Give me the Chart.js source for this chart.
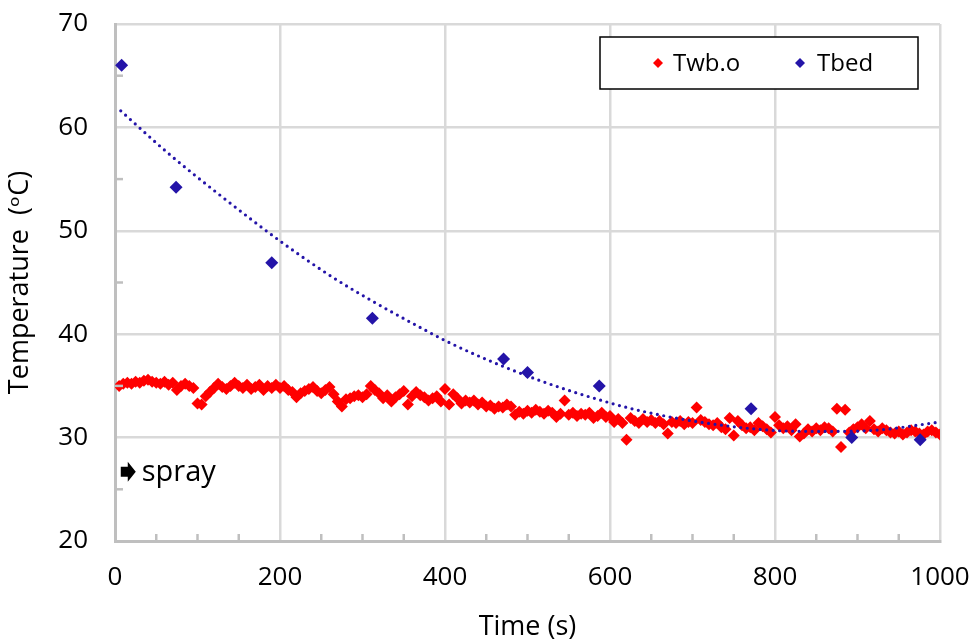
<!DOCTYPE html>
<html>
<head>
<meta charset="utf-8">
<script src="https://cdn.jsdelivr.net/npm/chart.js@4.4.1/dist/chart.umd.min.js"></script>
<style>
  html, body { margin: 0; padding: 0; background: #ffffff; }
  #wrap { width: 973px; height: 644px; }
</style>
</head>
<body>
<div id="wrap"><canvas id="tempChart" width="973" height="644"></canvas></div>
<script>
// axis ticks
const xTicks = [0, 200, 400, 600, 800, 1000];
const yTicks = [20, 30, 40, 50, 60, 70];
const xMinor = [50, 100, 150, 250, 300, 350, 450, 500, 550, 650, 700, 750, 850, 900, 950];
const yMinor = [25, 35, 45, 55, 65];
const seriesNames = ['Twb.o', 'Tbed'];

// Twb.o (red)
const twbTime = [
  5, 10, 15, 20, 25, 30, 35, 40, 45, 50, 55, 60, 65, 70, 75, 80, 85, 90, 95, 100,
  105, 110, 115, 120, 125, 130, 135, 140, 145, 150, 155, 160, 165, 170, 175, 180, 185, 190, 195, 200,
  205, 210, 215, 220, 225, 230, 235, 240, 245, 250, 255, 260, 265, 270, 275, 280, 285, 290, 295, 300,
  305, 310, 315, 320, 325, 330, 335, 340, 345, 350, 355, 360, 365, 370, 375, 380, 385, 390, 395, 400,
  405, 410, 415, 420, 425, 430, 435, 440, 445, 450, 455, 460, 465, 470, 475, 480, 485, 490, 495, 500,
  505, 510, 515, 520, 525, 530, 535, 540, 545, 550, 555, 560, 565, 570, 575, 580, 585, 590, 595, 600,
  605, 610, 615, 620, 625, 630, 635, 640, 645, 650, 655, 660, 665, 670, 675, 680, 685, 690, 695, 700,
  705, 710, 715, 720, 725, 730, 735, 740, 745, 750, 755, 760, 765, 770, 775, 780, 785, 790, 795, 800,
  805, 810, 815, 820, 825, 830, 835, 840, 845, 850, 855, 860, 865, 870, 875, 880, 885, 890, 895, 900,
  905, 910, 915, 920, 925, 930, 935, 940, 945, 950, 955, 960, 965, 970, 975, 980, 985, 990, 995, 1000
];
const twbTemp = [
  35.0, 35.2, 35.3, 35.2, 35.4, 35.3, 35.5, 35.6, 35.4, 35.3, 35.2, 35.4, 35.1, 35.3, 34.6, 35.0, 35.2, 35.0, 34.8, 33.3,
  33.2, 34.0, 34.4, 34.8, 35.2, 34.9, 34.7, 35.0, 35.3, 35.0, 34.8, 35.1, 34.7, 34.9, 35.1, 34.6, 35.0, 34.8, 35.1, 34.8,
  35.0, 34.6, 34.4, 33.9, 34.3, 34.5, 34.7, 34.9, 34.5, 34.3, 34.6, 34.9, 34.2, 33.5, 33.0, 33.7, 33.8, 34.0, 34.1, 33.9,
  34.2, 35.0, 34.6, 34.3, 33.8, 34.1, 33.5, 33.9, 34.2, 34.5, 33.2, 34.0, 34.4, 34.1, 33.9, 33.6, 33.8, 34.0, 33.5, 34.7,
  33.2, 34.2, 33.8, 33.3, 33.6, 33.4, 33.6, 33.2, 33.4, 33.0, 33.1, 32.8, 33.0, 32.9, 33.2, 33.0, 32.2, 32.5, 32.3, 32.6,
  32.4, 32.7, 32.5, 32.3, 32.6, 32.4, 32.0, 32.3, 33.6, 32.2, 32.4, 32.1, 32.3, 32.2, 32.4, 31.9, 32.1, 32.4, 32.0, 32.1,
  31.5, 31.8, 31.4, 29.8, 31.9, 31.6, 31.4, 31.8, 31.5, 31.7, 31.4, 31.6, 31.3, 30.4, 31.5, 31.4, 31.6, 31.3, 31.5, 31.4,
  32.9, 31.7, 31.5, 31.3, 31.2, 31.4, 31.0, 30.8, 31.9, 30.2, 31.6, 31.2, 30.9, 31.0, 30.7, 31.4, 31.1, 30.8, 30.5, 32.0,
  31.2, 30.9, 31.1, 30.7, 31.3, 30.1, 30.4, 30.8, 30.6, 30.9, 30.7, 31.0, 30.9, 30.6, 32.8, 29.1, 32.7, 30.5, 30.8, 31.0,
  31.3, 30.9, 31.6, 30.8, 30.6, 30.9, 30.7, 30.5, 30.4, 30.6, 30.3, 30.5, 30.7, 30.6, 30.4, 30.3, 30.6, 30.7, 30.5, 30.3
];

// Tbed (blue)
const bedTime = [8, 74, 190, 312, 471, 500, 587, 771, 893, 976];
const bedTemp = [66.0, 54.2, 46.9, 41.55, 37.6, 36.3, 35.0, 32.8, 30.0, 29.8];

// Tbed trend line
const trendTime = [7, 63, 128, 202, 264, 312, 377, 401, 452, 519, 598, 642, 713, 797, 855, 919, 1000];
const trendTemp = [61.6, 57.6, 53.4, 48.9, 45.5, 43.2, 40.35, 39.35, 37.5, 35.4, 33.4, 32.5, 31.45, 30.7, 30.6, 30.7, 31.5];

const RED = '#ff0000';
const BLUE = '#2414a8';
const FONT = '"Open Sans", "DejaVu Sans", sans-serif';

function pairs(xs, ys) {
  return xs.map((x, i) => ({ x: x, y: ys[i] }));
}

function diamond(ctx, x, y, r, color) {
  ctx.beginPath();
  ctx.moveTo(x, y - r);
  ctx.lineTo(x + r, y);
  ctx.lineTo(x, y + r);
  ctx.lineTo(x - r, y);
  ctx.closePath();
  ctx.fillStyle = color;
  ctx.fill();
}

// minor tick marks along the left and bottom axes
const minorTicks = {
  id: 'minorTicks',
  afterDatasetsDraw(chart) {
    const { ctx, chartArea, scales } = chart;
    ctx.save();
    ctx.strokeStyle = '#bfbfbf';
    ctx.lineWidth = 2.5;
    xMinor.forEach(v => {
      const px = scales.x.getPixelForValue(v);
      ctx.beginPath();
      ctx.moveTo(px, chartArea.bottom);
      ctx.lineTo(px, chartArea.bottom - 7);
      ctx.stroke();
    });
    yMinor.forEach(v => {
      const py = scales.y.getPixelForValue(v);
      ctx.beginPath();
      ctx.moveTo(chartArea.left, py);
      ctx.lineTo(chartArea.left + 8, py);
      ctx.stroke();
    });
    ctx.restore();
  }
};

// boxed legend inside the plot + "spray" note
const boxLegend = {
  id: 'boxLegend',
  afterDraw(chart) {
    const { ctx, scales } = chart;
    ctx.save();
    const bx = 600, by = 37, bw = 318, bh = 52;
    ctx.fillStyle = '#ffffff';
    ctx.fillRect(bx, by, bw, bh);
    ctx.strokeStyle = '#000000';
    ctx.lineWidth = 1.5;
    ctx.strokeRect(bx, by, bw, bh);

    const my = by + bh / 2;
    ctx.font = '24px ' + FONT;
    ctx.textBaseline = 'middle';
    diamond(ctx, 658, my, 5, RED);
    ctx.fillStyle = '#000000';
    ctx.fillText(seriesNames[0], 673, my + 1);
    diamond(ctx, 800, my, 5, BLUE);
    ctx.fillStyle = '#000000';
    ctx.fillText(seriesNames[1], 817, my + 1);

    // spray arrow
    const ax = scales.x.getPixelForValue(7);
    const ay = scales.y.getPixelForValue(26.7);
    ctx.fillStyle = '#000000';
    ctx.beginPath();
    ctx.moveTo(ax, ay - 5);
    ctx.lineTo(ax + 7, ay - 5);
    ctx.lineTo(ax + 7, ay - 10);
    ctx.lineTo(ax + 15, ay);
    ctx.lineTo(ax + 7, ay + 10);
    ctx.lineTo(ax + 7, ay + 5);
    ctx.lineTo(ax, ay + 5);
    ctx.closePath();
    ctx.fill();
    ctx.font = '29px ' + FONT;
    ctx.textBaseline = 'middle';
    ctx.fillText('spray', ax + 21, ay + 1);
    ctx.restore();
  }
};

const ctx = document.getElementById('tempChart').getContext('2d');

new Chart(ctx, {
  type: 'scatter',
  data: {
    datasets: [
      {
        label: seriesNames[1],
        data: pairs(bedTime, bedTemp),
        pointStyle: 'rectRot',
        pointRadius: 6.5,
        backgroundColor: BLUE,
        borderColor: BLUE,
        borderWidth: 0,
        order: 0
      },
      {
        label: 'trend',
        data: pairs(trendTime, trendTemp),
        showLine: true,
        pointRadius: 0,
        borderColor: BLUE,
        borderWidth: 3.2,
        borderDash: [0, 6.5],
        borderCapStyle: 'round',
        cubicInterpolationMode: 'monotone',
        fill: false,
        order: 1
      },
      {
        label: seriesNames[0],
        data: pairs(twbTime, twbTemp),
        pointStyle: 'rectRot',
        pointRadius: 6,
        backgroundColor: RED,
        borderColor: RED,
        borderWidth: 0,
        order: 2
      }
    ]
  },
  options: {
    responsive: false,
    animation: false,
    layout: { padding: { top: 24, right: 33, left: 0, bottom: 0 } },
    plugins: {
      legend: { display: false },
      tooltip: { enabled: false }
    },
    scales: {
      x: {
        type: 'linear',
        min: 0,
        max: 1000,
        afterBuildTicks: axis => { axis.ticks = xTicks.map(v => ({ value: v })); },
        afterFit: axis => {
          axis.height = 103;
          axis.paddingLeft = 0;
          axis.paddingRight = 0;
        },
        grid: { color: '#d9d9d9', lineWidth: 2.5, drawTicks: false },
        border: { display: true, color: '#bfbfbf', width: 3 },
        ticks: {
          color: '#000000',
          padding: 21,
          font: { family: FONT, size: 26 },
          callback: v => String(v)
        },
        title: {
          display: true,
          text: 'Time (s)',
          color: '#000000',
          font: { family: FONT, size: 27 },
          padding: { top: 0, bottom: 0 }
        }
      },
      y: {
        min: 20,
        max: 70,
        afterBuildTicks: axis => { axis.ticks = yTicks.map(v => ({ value: v })); },
        afterFit: axis => {
          axis.width = 115;
          axis.paddingTop = 0;
          axis.paddingBottom = 0;
        },
        grid: { color: '#d9d9d9', lineWidth: 2.5, drawTicks: false },
        border: { display: true, color: '#bfbfbf', width: 3 },
        ticks: {
          color: '#000000',
          padding: 27,
          font: { family: FONT, size: 26 },
          callback: v => String(v)
        },
        title: {
          display: true,
          text: 'Temperature  (\u1D52C)',
          color: '#000000',
          font: { family: FONT, size: 27 },
          padding: { top: 4, bottom: 0 }
        }
      }
    }
  },
  plugins: [minorTicks, boxLegend]
});
</script>
</body>
</html>
